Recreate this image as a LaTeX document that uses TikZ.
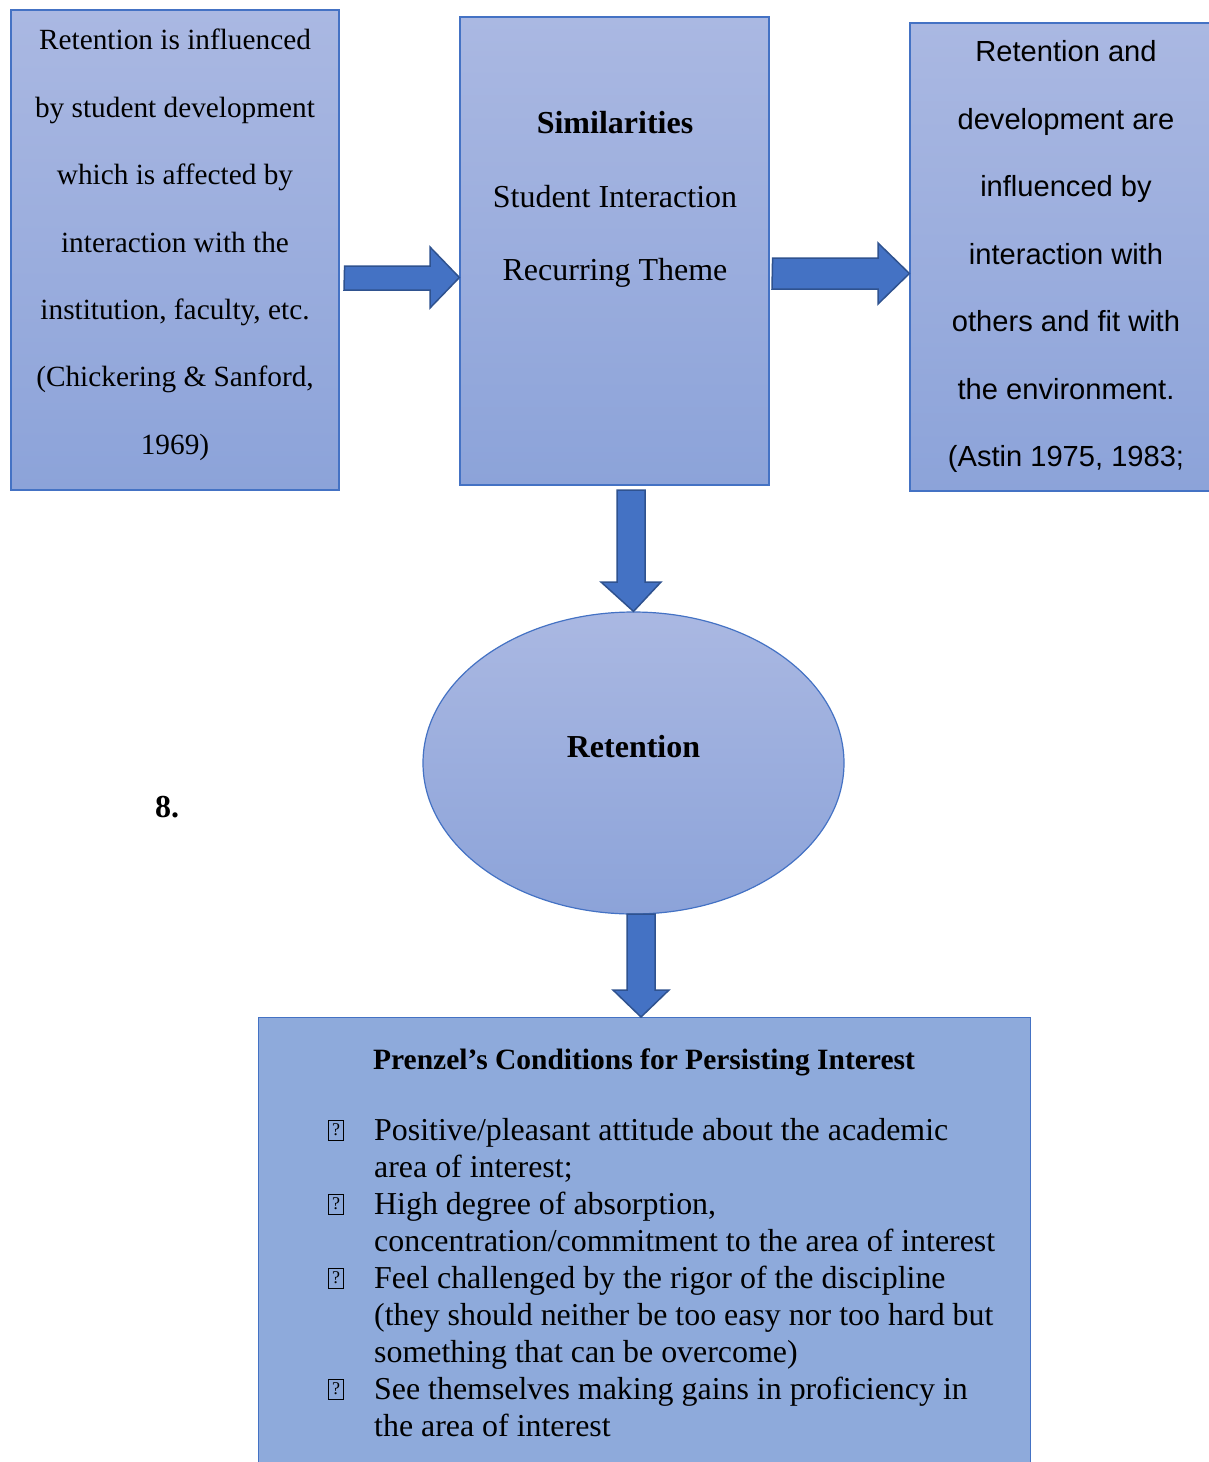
\documentclass[tikz,border=0pt]{standalone}
\usepackage{fontspec}
\setmainfont{Liberation Serif}
\newfontfamily\arialfont{Liberation Sans}
\usetikzlibrary{shapes.geometric}
\definecolor{boxtop}{HTML}{AAB8E2}
\definecolor{boxbot}{HTML}{8CA3D9}
\definecolor{flatfill}{HTML}{8EAADB}
\definecolor{edgeblue}{HTML}{4472C4}
\definecolor{arrowfill}{HTML}{4472C4}
\definecolor{arrowedge}{HTML}{2F528F}
\tikzset{
  gradbox/.style={draw=edgeblue, line width=1.2pt, top color=boxtop, bottom color=boxbot, inner sep=0pt},
  flatbox/.style={draw=edgeblue, line width=1.2pt, fill=flatfill, inner sep=0pt},
  fatarrow/.style={fill=arrowfill, draw=arrowedge, line width=1.5pt, line join=miter},
  serifbody/.style={font=\fontsize{29.3}{67.4}\selectfont, align=center, inner sep=0pt},
  sansbody/.style={font=\arialfont\fontsize{29.1}{67.5}\selectfont, align=center, inner sep=0pt},
  midbody/.style={font=\fontsize{32}{73.5}\selectfont, align=center, inner sep=0pt},
  listbody/.style={font=\fontsize{31.9}{37}\selectfont, align=left, inner sep=0pt},
  missing/.style={draw=black, line width=0.9pt, inner sep=0pt, minimum width=15, minimum height=20, font=\fontsize{18}{18}\selectfont}
}
\begin{document}
\begin{tikzpicture}[x=1pt, y=-1pt]
\useasboundingbox (0,0) rectangle (1209,1462);
\fill[white] (0,0) rectangle (1209,1462);

% three boxes across the top
\node[gradbox, minimum width=328, minimum height=480] (leftbox) at (175,250) {};
\node[gradbox, minimum width=309, minimum height=468] (midbox) at (614.5,251) {};
\node[gradbox, minimum width=320, minimum height=468] (rightbox) at (1070,257) {};

\node[serifbody, anchor=north] (lefttext) at (175,29) {Retention is influenced\\by student development\\which is affected by\\interaction with the\\institution, faculty, etc.\\(Chickering \& Sanford,\\1969)};
\node[midbody, anchor=north] (midtext) at (615,111.5) {\textbf{Similarities}\\Student Interaction\\Recurring Theme};
\node[sansbody, anchor=north] (righttext) at (1066,40.5) {Retention and\\development are\\influenced by\\interaction with\\others and fit with\\the environment.\\(Astin 1975, 1983;};

% central ellipse
\node[ellipse, draw=edgeblue, line width=1.2pt, top color=boxtop, bottom color=boxbot, minimum width=421, minimum height=302, inner sep=0pt] (ret) at (633.5,763) {};
\node[font=\fontsize{32}{32}\selectfont\bfseries, inner sep=0pt] (rettext) at (633.5,747) {Retention};

\node[font=\fontsize{32}{32}\selectfont\bfseries, inner sep=0pt] (eight) at (167,807) {8.};

% bottom box with the list of conditions
\node[flatbox, minimum width=772, minimum height=460, anchor=north west] (prenzel) at (258,1017) {};
\node[font=\fontsize{29.5}{30}\selectfont\bfseries, inner sep=0pt] (prenzelhead) at (644,1062) {Prenzel’s Conditions for Persisting Interest};
\node[listbody, anchor=north west] (prenzellist) at (374,1118) {Positive/pleasant attitude about the academic\\area of interest;\\High degree of absorption,\\concentration/commitment to the area of interest\\Feel challenged by the rigor of the discipline\\(they should neither be too easy nor too hard but\\something that can be overcome)\\See themselves making gains in proficiency in\\the area of interest};
\node[missing] (b1) at (336,1130) {?};
\node[missing] (b2) at (336,1204) {?};
\node[missing] (b3) at (336,1278) {?};
\node[missing] (b4) at (336,1389) {?};

% block arrows between the shapes
\draw[fatarrow] (leftbox.east |- 0,266) ++(5,0) -- (430,266) -- (430,247) -- (midbox.west |- 0,277.5) -- (430,308) -- (430,290) -- (344,290) -- cycle;
\draw[fatarrow] (midbox.east |- 0,258) ++(3,0) -- (878,258) -- (878,243) -- (rightbox.west |- 0,273.5) -- (878,304) -- (878,289) -- (772,289) -- cycle;
\draw[fatarrow] (617,490) -- (645,490) -- (645,582) -- (661,582) -- (ret.north) -- (601,582) -- (617,582) -- cycle;
\draw[fatarrow] (627,914) -- (655,914) -- (655,990) -- (669,990) -- (641,1017) -- (613,990) -- (627,990) -- cycle;
\end{tikzpicture}
\end{document}
